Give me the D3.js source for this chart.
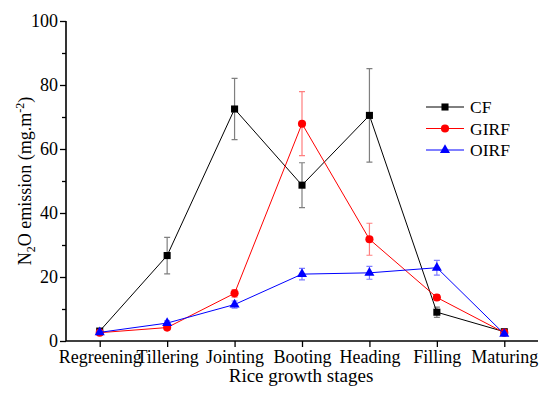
<!DOCTYPE html>
<html>
<head>
<meta charset="utf-8">
<script src="https://cdn.jsdelivr.net/npm/d3@7"></script>
<style>
 body { margin: 0; background: #fff; }
</style>
</head>
<body>
<script>
 var w = 550;
 var h = 398;
 var font = "Liberation Serif";

 var stages = ["Regreening", "Tillering", "Jointing", "Booting", "Heading", "Filling", "Maturing"];
 var cf = [3.1, 26.7, 72.5, 48.7, 70.5, 9.0, 2.9];
 var cfErr = [0.5, 5.7, 9.6, 7.0, 14.6, 1.6, 0.4];
 var girf = [2.6, 4.2, 14.9, 67.9, 31.8, 13.6, 2.6];
 var girfErr = [0.4, 0.6, 1.2, 10.0, 5.0, 0.9, 0.4];
 var oirf = [2.7, 5.6, 11.4, 20.9, 21.3, 22.9, 2.2];
 var oirfErr = [0.4, 0.7, 1.1, 1.8, 2.0, 2.3, 0.3];
 var yTicks = [0, 20, 40, 60, 80, 100];
 var yMinor = [10, 30, 50, 70, 90];

 var series = [
     {name: "CF", values: cf, err: cfErr, color: "#000000", errColor: "#7f7f7f", shape: d3.symbolSquare, size: 50},
     {name: "GIRF", values: girf, err: girfErr, color: "#ff0000", errColor: "#ff7f7f", shape: d3.symbolCircle, size: 52},
     {name: "OIRF", values: oirf, err: oirfErr, color: "#0000ff", errColor: "#7f7fff", shape: d3.symbolTriangle, size: 44}
 ];

 var x = d3.scalePoint()
         .domain(stages)
         .range([66, 538])
         .padding(0.5);

 var y = d3.scaleLinear()
         .domain([0, 100])
         .range([341, 21]);

 var svg = d3.select("body")
         .append("svg")
         .attr("width", w)
         .attr("height", h)
         .attr("font-family", font);

 // axes
 var yAxis = svg.append("g")
         .attr("transform", "translate(66,0)")
         .call(d3.axisLeft(y).tickValues(yTicks).tickSize(6).tickPadding(2).tickFormat(d3.format("d")));
 svg.append("g")
         .attr("transform", "translate(66,0)")
         .call(d3.axisLeft(y).tickValues(yMinor).tickSize(4).tickFormat(""))
         .select(".domain").remove();
 var xAxis = svg.append("g")
         .attr("transform", "translate(0,341)")
         .call(d3.axisBottom(x).tickSize(6).tickPadding(3).tickSizeOuter(0));

 svg.selectAll("g").attr("font-family", font).attr("font-size", 18);
 yAxis.select(".domain").attr("stroke-width", 1.6).attr("d", "M0,341V21");
 xAxis.select(".domain").attr("stroke-width", 1.6).attr("d", "M66,0H538");
 svg.selectAll(".tick line").attr("stroke-width", 1.3);
 svg.selectAll(".tick text")
         .attr("font-family", font)
         .attr("font-size", 18)
         .attr("fill", "#000");

 svg.append("text")
         .attr("x", 301)
         .attr("y", 382)
         .attr("text-anchor", "middle")
         .attr("font-family", font)
         .attr("font-size", 19)
         .text("Rice growth stages");

 var yl = svg.append("text")
         .attr("transform", "translate(31,181) rotate(-90)")
         .attr("text-anchor", "middle")
         .attr("font-family", font)
         .attr("font-size", 18);
 yl.append("tspan").text("N");
 yl.append("tspan").attr("baseline-shift", "-30%").attr("font-size", 12).text("2");
 yl.append("tspan").text("O emission (mg.m");
 yl.append("tspan").attr("baseline-shift", "super").attr("font-size", 12).text("-2");
 yl.append("tspan").text(")");

 // series
 series.forEach(function (s) {
     var g = svg.append("g");
     var pts = stages.map(function (d, i) {
         return {stage: d, v: s.values[i], e: s.err[i]};
     });

     g.selectAll("path.err")
             .data(pts)
             .enter()
             .append("path")
             .attr("class", "err")
             .attr("fill", "none")
             .attr("stroke", s.errColor)
             .attr("stroke-width", 1.2)
             .attr("d", function (d) {
                 var cx = x(d.stage), t = y(d.v + d.e), b = y(d.v - d.e);
                 return "M" + cx + "," + t + "V" + b +
                        "M" + (cx - 3) + "," + t + "H" + (cx + 3) +
                        "M" + (cx - 3) + "," + b + "H" + (cx + 3);
             });

     g.append("path")
             .datum(pts)
             .attr("fill", "none")
             .attr("stroke", s.color)
             .attr("stroke-width", 1)
             .attr("d", d3.line()
                     .x(function (d) { return x(d.stage); })
                     .y(function (d) { return y(d.v); }));

     g.selectAll("path.mk")
             .data(pts)
             .enter()
             .append("path")
             .attr("class", "mk")
             .attr("fill", s.color)
             .attr("transform", function (d) {
                 return "translate(" + x(d.stage) + "," + y(d.v) + ")";
             })
             .attr("d", d3.symbol().type(s.shape).size(s.size));
 });

 // legend
 var legend = svg.append("g");
 series.forEach(function (s, i) {
     var ly = 107 + i * 21.5;
     legend.append("line")
             .attr("x1", 426).attr("x2", 464)
             .attr("y1", ly).attr("y2", ly)
             .attr("stroke", s.color)
             .attr("stroke-width", 1);
     legend.append("path")
             .attr("transform", "translate(445," + ly + ")")
             .attr("fill", s.color)
             .attr("d", d3.symbol().type(s.shape).size(s.size));
     legend.append("text")
             .attr("x", 470)
             .attr("y", ly + 6)
             .attr("font-family", font)
             .attr("font-size", 17.5)
             .text(s.name);
 });
</script>
</body>
</html>
